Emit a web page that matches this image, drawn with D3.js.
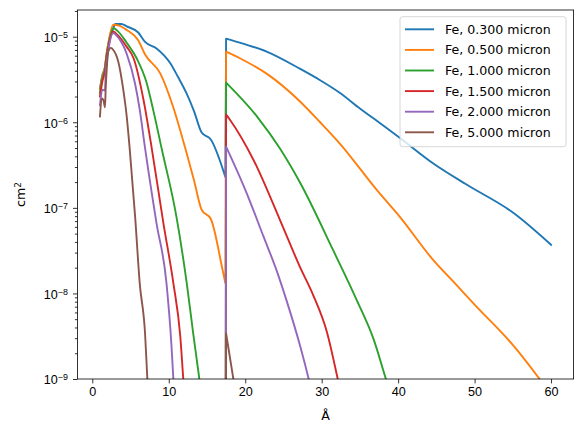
<!DOCTYPE html>
<html>
<head>
<meta charset="utf-8">
<script src="https://cdn.jsdelivr.net/npm/d3@7"></script>
<style>
  body { margin: 0; background: #fff; }
  svg { font-family: "DejaVu Sans", sans-serif; }
</style>
</head>
<body>
<script>
// cross sections: [wavelength in Å, cm^2]
const fe030 = [[1, 2.5e-6], [1.3, 3.5e-6], [1.7, 4.7e-6], [1.75, 5.2e-6], [2.1, 8.3e-6], [2.75, 1.26e-5],
  [3.0, 1.41e-5], [3.8, 1.41e-5], [4.5, 1.32e-5], [6.0, 1.12e-5], [6.9, 8.7e-6], [8.4, 7.3e-6],
  [10.2, 4.9e-6], [11.2, 3.4e-6], [12.3, 2.2e-6], [13.3, 1.35e-6], [14.3, 7.6e-7], [15.5, 6.3e-7],
  [17.4, 2.3e-7], [17.5, 9.5e-6], [19.7, 8.3e-6], [22.8, 6.7e-6], [27.2, 4.2e-6], [29.8, 3.1e-6],
  [32.4, 2.2e-6], [35.0, 1.45e-6], [37.6, 9.8e-7], [40.2, 6.6e-7], [44.6, 3.3e-7], [49.0, 1.86e-7],
  [55.1, 8.7e-8], [60, 3.7e-8]];
const fe050 = [[1, 2.4e-6], [1.3, 3.4e-6], [1.7, 4.7e-6], [1.75, 5.2e-6], [2.1, 8.5e-6], [2.75, 1.38e-5],
  [3.5, 1.35e-5], [4.5, 1.2e-5], [6.0, 9.1e-6], [6.9, 6.2e-6], [8.9, 3.7e-6], [10.5, 1.58e-6],
  [12.1, 5.2e-7], [13.3, 2.1e-7], [14.3, 9.5e-8], [15.5, 7.4e-8], [17.05, 1.86e-8], [17.4, 1.32e-8],
  [17.5, 6.7e-6], [19.3, 5.6e-6], [22.8, 3.7e-6], [27.2, 1.74e-6], [29.8, 1.0e-6], [32.4, 5.6e-7],
  [37.2, 1.62e-7], [40.2, 7.9e-8], [44.6, 2.45e-8], [47.2, 1.38e-8], [50, 7.4e-9], [55, 2.5e-9],
  [60, 6.6e-10]];
const fe100 = [[1, 2.2e-6], [1.3, 3.2e-6], [1.7, 4.5e-6], [1.75, 5.0e-6], [2.1, 7.9e-6], [2.75, 1.26e-5],
  [3.3, 1.17e-5], [4.5, 8.5e-6], [5.8, 5.6e-6], [7.1, 2.9e-6], [8.0, 1.35e-6], [9.1, 4.8e-7],
  [11.0, 7.9e-8], [12.35, 1.32e-8], [13.2, 3.4e-9], [14.0, 1.0e-9], [15.5, 7.9e-11], [17.4, 2.5e-12],
  [17.5, 2.9e-6], [21.7, 1.12e-6], [24.5, 5.0e-7], [27.2, 1.95e-7], [31.5, 3.2e-8], [34.6, 8.3e-9],
  [36.8, 2.9e-9], [38.4, 1.0e-9], [40, 3.5e-10]];
const fe150 = [[1, 2.0e-6], [1.3, 2.95e-6], [1.7, 4.2e-6], [1.75, 4.7e-6], [2.1, 7.6e-6], [2.75, 1.15e-5],
  [3.3, 1.05e-5], [4.5, 7.6e-6], [5.4, 5.6e-6], [6.7, 1.82e-6], [7.8, 4.8e-7], [9.3, 6.6e-8],
  [10.6, 1.32e-8], [11.5, 3.2e-9], [11.9, 1.0e-9], [13, 6.3e-11], [17.4, 3.2e-14],
  [17.5, 1.23e-6], [18.0, 1.07e-6], [21.1, 3.6e-7], [24.55, 7.2e-8], [27.2, 2.0e-8], [28.9, 9.5e-9],
  [30.7, 3.5e-9], [32.1, 1.0e-9], [33.5, 2.5e-10]];
const fe200 = [[1, 1.58e-6], [1.3, 2.4e-6], [1.66, 2.35e-6], [1.75, 3.8e-6], [2.1, 6.9e-6], [2.75, 1.1e-5],
  [3.3, 1.0e-5], [4.5, 6.3e-6], [5.6, 2.8e-6], [6.2, 1.41e-6], [6.9, 5.0e-7], [8.4, 6.6e-8],
  [9.7, 1.32e-8], [10.35, 2.5e-9], [10.6, 1.0e-9], [11.5, 7.9e-11], [17.4, 1e-16],
  [17.5, 5.2e-7], [20.2, 1.48e-7], [22.4, 4.6e-8], [24.1, 1.86e-8], [25.4, 8.3e-9], [27.2, 2.4e-9],
  [28.3, 1.0e-9], [29.5, 3.2e-10]];
const fe500 = [[1, 1.17e-6], [1.23, 1.9e-6], [1.45, 1.82e-6], [1.66, 1.5e-6], [1.75, 2.5e-6], [1.88, 4.1e-6],
  [2.1, 6.8e-6], [2.4, 7.4e-6], [2.75, 7.0e-6], [3.4, 5.1e-6], [4.05, 2.4e-6], [4.5, 1.17e-6],
  [4.9, 4.8e-7], [5.6, 7.9e-8], [6.2, 1.32e-8], [6.9, 3.4e-9], [7.2, 1.0e-9], [7.6, 2.5e-10],
  [17.4, 1e-30], [17.5, 3.4e-9], [18.45, 1.0e-9], [19.5, 2.5e-10]];

const labels = ['Fe, 0.300 micron', 'Fe, 0.500 micron', 'Fe, 1.000 micron',
  'Fe, 1.500 micron', 'Fe, 2.000 micron', 'Fe, 5.000 micron'];
const colors = ['#1f77b4', '#ff7f0e', '#2ca02c', '#d62728', '#9467bd', '#8c564b'];
const xTicks = [0, 10, 20, 30, 40, 50, 60];
const yTicks = [-9, -8, -7, -6, -5];
const edge = 17.45; // Fe L edge, splits each curve in two smooth parts

const width = 583, height = 437;
const margin = { left: 77.4, right: 583 - 573.6, top: 10, bottom: 437 - 379 };

const x = d3.scaleLinear()
  .domain([-1.95, 62.95])
  .range([margin.left, width - margin.right]);

const y = d3.scaleLog()
  .domain([1e-9, Math.pow(10, -4.688)])
  .range([height - margin.bottom, margin.top]);

const svg = d3.select('body').append('svg')
  .attr('width', width)
  .attr('height', height);

svg.append('clipPath').attr('id', 'plot')
  .append('rect')
  .attr('x', margin.left).attr('y', margin.top)
  .attr('width', width - margin.left - margin.right)
  .attr('height', height - margin.top - margin.bottom);

const smooth = d3.line()
  .curve(d3.curveMonotoneX)
  .x(d => x(d[0]))
  .y(d => y(d[1]));

const straight = d3.line()
  .x(d => x(d[0]))
  .y(d => y(d[1]));

function curvePath(d) {
  const pre = d.filter(p => p[0] < edge);
  const post = d.filter(p => p[0] > edge);
  return smooth(pre) + straight([pre[pre.length - 1], post[0]]).replace('M', 'L') +
    smooth(post).replace('M', 'L');
}

const series = [fe030, fe050, fe100, fe150, fe200, fe500];

svg.append('g')
  .attr('clip-path', 'url(#plot)')
  .selectAll('path')
  .data(series)
  .enter()
  .append('path')
  .attr('d', curvePath)
  .attr('fill', 'none')
  .attr('stroke', (d, i) => colors[i])
  .attr('stroke-width', 1.9)
  .attr('stroke-linejoin', 'round')
  .attr('stroke-linecap', 'square');

// x axis
const xAxis = svg.append('g')
  .attr('transform', `translate(0,${height - margin.bottom})`)
  .call(d3.axisBottom(x).tickValues(xTicks).tickSize(4.4).tickPadding(3.5));

// y axis, major ticks with 10^n labels, plus minor ticks
const minor = [];
for (let e = -9; e <= -5; e++) {
  for (let k = 2; k <= 9; k++) {
    const v = k * Math.pow(10, e);
    if (v <= y.domain()[1]) minor.push(v);
  }
}

svg.append('g')
  .attr('transform', `translate(${margin.left},0)`)
  .call(d3.axisLeft(y).tickValues(minor).tickSize(2.5).tickFormat(''));

const yMajor = svg.append('g')
  .attr('transform', `translate(${margin.left},0)`)
  .call(d3.axisLeft(y).tickValues(yTicks.map(e => Math.pow(10, e))).tickSize(4.4).tickPadding(3.5)
    .tickFormat(''));

yMajor.selectAll('.tick')
  .append('text')
  .attr('fill', '#000')
  .attr('x', -9.5)
  .attr('dy', '0.38em')
  .attr('text-anchor', 'end')
  .style('font-size', '12.6px')
  .each(function(d) {
    const t = d3.select(this);
    t.append('tspan').text('10');
    t.append('tspan')
      .attr('dy', '-0.45em')
      .style('font-size', '8.9px')
      .text('\u2212' + Math.round(-Math.log10(d)));
  });

svg.selectAll('.domain').remove();
svg.selectAll('.tick line').attr('stroke', '#000').attr('stroke-width', 0.8);
xAxis.selectAll('text').style('font-size', '12.6px').attr('fill', '#000');

// frame
svg.append('rect')
  .attr('x', margin.left).attr('y', margin.top)
  .attr('width', width - margin.left - margin.right)
  .attr('height', height - margin.top - margin.bottom)
  .attr('fill', 'none')
  .attr('stroke', '#000')
  .attr('stroke-width', 0.8);

// axis titles
svg.append('text')
  .attr('x', (margin.left + width - margin.right) / 2)
  .attr('y', 420)
  .attr('text-anchor', 'middle')
  .style('font-size', '12.6px')
  .text('\u00c5');

const ylab = svg.append('text')
  .attr('transform', `translate(25,${(margin.top + height - margin.bottom) / 2}) rotate(-90)`)
  .attr('text-anchor', 'middle')
  .style('font-size', '12.6px');
ylab.append('tspan').text('cm');
ylab.append('tspan').attr('dy', '-0.45em').style('font-size', '8.9px').text('2');

// legend
const legend = svg.append('g');
legend.append('rect')
  .attr('x', 400).attr('y', 16.7)
  .attr('width', 166).attr('height', 130)
  .attr('rx', 2.5)
  .attr('fill', '#fff').attr('fill-opacity', 0.8)
  .attr('stroke', '#ccc').attr('stroke-width', 0.8);

const items = legend.selectAll('g.item')
  .data(labels)
  .enter()
  .append('g')
  .attr('transform', (d, i) => `translate(0,${29.3 + i * 20.6})`);

items.append('line')
  .attr('x1', 405).attr('x2', 434)
  .attr('stroke', (d, i) => colors[i])
  .attr('stroke-width', 1.9);

items.append('text')
  .attr('x', 445)
  .attr('dy', '0.36em')
  .style('font-size', '12.6px')
  .text(d => d);
</script>
</body>
</html>
